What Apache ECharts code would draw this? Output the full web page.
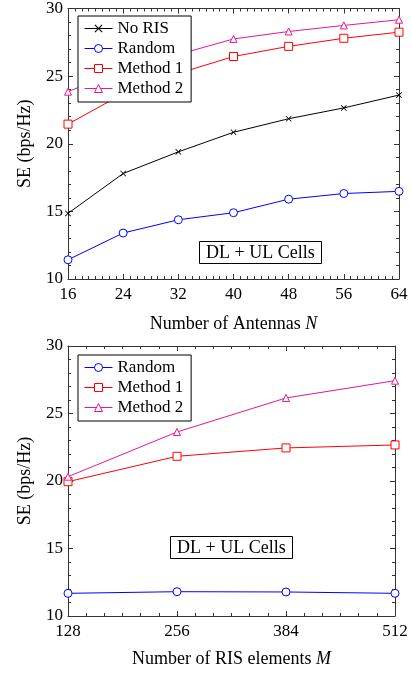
<!DOCTYPE html>
<html>
<head>
<meta charset="utf-8">
<script src="https://cdn.jsdelivr.net/npm/echarts@6/dist/echarts.min.js"></script>
<style>
html,body{margin:0;padding:0;background:#fff;}
#main{width:412px;height:675px;}
</style>
</head>
<body>
<div id="main"></div>
<script>
// 上图: 天线数 N
var antennas = [16, 24, 32, 40, 48, 56, 64];
var noRisN   = [14.85, 17.8, 19.4, 20.85, 21.85, 22.65, 23.6];
var randomN  = [11.42, 13.4, 14.38, 14.9, 15.9, 16.32, 16.48];
var method1N = [21.45, 23.7, 25.2, 26.45, 27.2, 27.8, 28.25];
var method2N = [23.85, 25.5, 26.6, 27.75, 28.3, 28.75, 29.17];

// 下图: RIS 单元数 M
var risElems = [128, 256, 384, 512];
var randomM  = [11.68, 11.8, 11.78, 11.68];
var method1M = [19.95, 21.83, 22.45, 22.67];
var method2M = [20.32, 23.63, 26.15, 27.43];

var yTicks = [10, 15, 20, 25, 30];

var FONT = 'Liberation Serif';
var C_BLACK = '#000000', C_BLUE = '#0000ff', C_RED = '#ff0000', C_PINK = '#e8178f';
var crossPath = 'path://M0,1L1,0L5,4L9,0L10,1L6,5L10,9L9,10L5,6L1,10L0,9L4,5Z';

function pairs(xs, ys){//把x和y拼成点
	var out = [];
	for (var i = 0; i < xs.length; i++) out.push([xs[i], ys[i]]);
	return out;
}

function mkSeries(name, xs, ys, color, symbol, size, axisIdx){
	return {
		name: name,
		type: 'line',
		xAxisIndex: axisIdx,
		yAxisIndex: axisIdx,
		data: pairs(xs, ys),
		symbol: symbol,
		symbolSize: size,
		showSymbol: true,
		animation: false,
		lineStyle: {color: color, width: 1},
		itemStyle: symbol === crossPath ? {color: color, borderWidth: 0} : {color: '#fff', borderColor: color, borderWidth: 1}
	};
}

var axisLine = {show: true, lineStyle: {color: '#333', width: 1}};

function xAxes(gridIdx, min, max, interval, minorSplit, name, italic, gap){
	var base = {
		type: 'value', gridIndex: gridIdx, min: min, max: max, interval: interval,
		axisLine: axisLine, splitLine: {show: false},
		axisTick: {show: true, inside: true, length: 5, lineStyle: {color: '#333'}},
		minorTick: {show: true, splitNumber: minorSplit, length: 3, lineStyle: {color: '#333'}}
	};
	var bottom = Object.assign({}, base, {
		position: 'bottom',
		axisLabel: {color: '#000', fontFamily: FONT, fontSize: 17, margin: 7},
		name: name + ' {i|' + italic + '}',
		nameLocation: 'middle', nameGap: gap,
		nameTextStyle: {color: '#000', fontFamily: FONT, fontSize: 18,
			rich: {i: {fontStyle: 'italic', fontFamily: FONT, fontSize: 18, color: '#000'}}}
	});
	var top = Object.assign({}, base, {position: 'top', axisLabel: {show: false}});
	return [bottom, top];
}

function yAxes(gridIdx){
	var base = {
		type: 'value', gridIndex: gridIdx, min: yTicks[0], max: yTicks[yTicks.length - 1], interval: 5,
		axisLine: axisLine, splitLine: {show: false},
		axisTick: {show: true, inside: true, length: 5, lineStyle: {color: '#333'}},
		minorTick: {show: true, splitNumber: 5, length: 3, lineStyle: {color: '#333'}}
	};
	var left = Object.assign({}, base, {
		position: 'left',
		axisLabel: {color: '#000', fontFamily: FONT, fontSize: 17, margin: 5},
		name: 'SE (bps/Hz)', nameLocation: 'middle', nameGap: 34,
		nameTextStyle: {color: '#000', fontFamily: FONT, fontSize: 18}
	});
	var right = Object.assign({}, base, {position: 'right', axisLabel: {show: false}});
	return [left, right];
}

var xa = xAxes(0, 16, 64, 8, 8, 'Number of Antennas', 'N', 36).concat(
         xAxes(1, 128, 512, 128, 6, 'Number of RIS elements', 'M', 34));
var ya = yAxes(0).concat(yAxes(1));

function legendBox(top, names){
	return {
		show: true, orient: 'vertical', left: 78, top: top,
		data: names,
		backgroundColor: '#fff', borderColor: '#000', borderWidth: 1,
		padding: [4, 8, 5, 6], itemGap: 3, itemWidth: 28, itemHeight: 10,
		lineStyle: {width: 1}, itemStyle: {borderWidth: 1},
		textStyle: {color: '#000', fontFamily: FONT, fontSize: 17}
	};
}

var textBox = {
	color: '#000', fontFamily: FONT, fontSize: 18, fontWeight: 'normal'
};

var option = {
	backgroundColor: '#fff',
	animation: false,
	title: [
		{text: 'DL + UL Cells', left: 199, top: 241, borderColor: '#000', borderWidth: 1,
			padding: [3, 7, 2, 7], textStyle: textBox},
		{text: 'DL + UL Cells', left: 170, top: 536, borderColor: '#000', borderWidth: 1,
			padding: [3, 7, 2, 7], textStyle: textBox}
	],
	grid: [
		{left: 68, top: 7, width: 331, height: 272},
		{left: 68, top: 346, width: 327, height: 270}
	],
	legend: [
		legendBox(16, ['No RIS', 'Random', 'Method 1', 'Method 2']),
		legendBox(355, ['Random', 'Method 1', 'Method 2'])
	],
	xAxis: xa,
	yAxis: ya,
	series: [
		mkSeries('No RIS', antennas, noRisN, C_BLACK, crossPath, 6, 0),
		mkSeries('Random', antennas, randomN, C_BLUE, 'circle', 8, 0),
		mkSeries('Method 1', antennas, method1N, C_RED, 'rect', 8, 0),
		mkSeries('Method 2', antennas, method2N, C_PINK, 'triangle', 7, 0),
		mkSeries('Random', risElems, randomM, C_BLUE, 'circle', 8, 2),
		mkSeries('Method 1', risElems, method1M, C_RED, 'rect', 8, 2),
		mkSeries('Method 2', risElems, method2M, C_PINK, 'triangle', 7, 2)
	]
};

var myChart = echarts.init(document.getElementById('main'), null, {renderer: 'canvas'});
myChart.setOption(option);
</script>
</body>
</html>
